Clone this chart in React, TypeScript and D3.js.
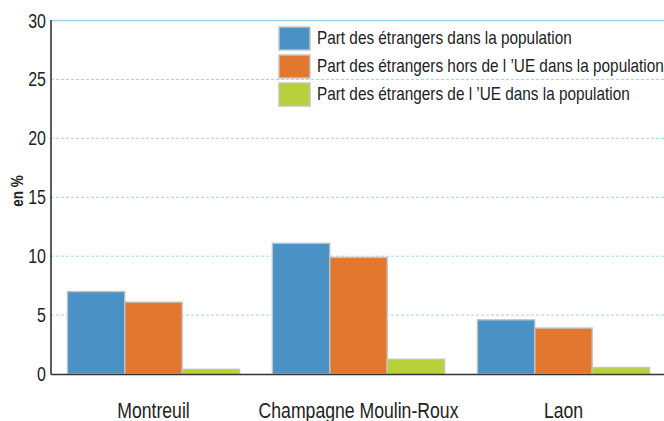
import React from "react";
import * as d3 from "d3";

// villes et valeurs (en %)
const categories = ["Montreuil", "Champagne Moulin-Roux", "Laon"];
const seriesNames = [
  "Part des étrangers dans la population",
  "Part des étrangers hors de l \u2019UE dans la population",
  "Part des étrangers de l \u2019UE dans la population",
];
const partEtrangers = [7.0, 11.1, 4.6];
const partHorsUE = [6.1, 9.9, 3.9];
const partUE = [0.4, 1.25, 0.55];
const yTicks = [0, 5, 10, 15, 20, 25, 30];

const colors = ["#4a91c6", "#e2782f", "#b7d13c"];
const font = "'Liberation Sans', Arial, sans-serif";
// police étroite simulée (pas de Helvetica Narrow ici)
const narrow = 0.82;

function NText(props: any) {
  const { x, y, children, ...rest } = props;
  return (
    <text transform={`translate(${x},${y}) scale(${narrow},1)`} {...rest}>
      {children}
    </text>
  );
}

export default function App() {
  const width = 664;
  const height = 421;
  const values = [partEtrangers, partHorsUE, partUE];

  const y = d3.scaleLinear().domain([0, 30]).range([374, 20.5]);
  const x = d3
    .scaleBand()
    .domain(categories)
    .range([51, 666])
    .paddingInner(0.16)
    .paddingOuter(0.08);
  const xs = d3
    .scaleBand()
    .domain(seriesNames)
    .range([0, x.bandwidth()]);

  return (
    <svg
      width={width}
      height={height}
      style={{ position: "absolute", left: 0, top: 0, background: "#fff" }}
      fontFamily={font}
    >
      {/* grille */}
      {yTicks.slice(1).map((t) => (
        <line
          key={"g" + t}
          x1={51}
          x2={width}
          y1={y(t)}
          y2={y(t)}
          stroke="#9fd3ef"
          strokeWidth={t === 30 ? 1.6 : 1}
          strokeDasharray={t === 30 ? undefined : "3,2"}
        />
      ))}

      {/* barres */}
      {categories.map((c, i) => (
        <g key={c} transform={`translate(${x(c)},0)`}>
          {seriesNames.map((s, j) => (
            <rect
              key={s}
              x={xs(s)}
              y={y(values[j][i])}
              width={xs.bandwidth()}
              height={y(0) - y(values[j][i])}
              fill={colors[j]}
              stroke="#c4c4c4"
              strokeWidth={1.4}
            />
          ))}
        </g>
      ))}

      {/* axes */}
      <line x1={51} x2={51} y1={20} y2={374.5} stroke="#333" strokeWidth={1.6} />
      <line x1={51} x2={width} y1={374.5} y2={374.5} stroke="#333" strokeWidth={1.6} />

      {yTicks.map((t) => (
        <NText
          key={"t" + t}
          x={46}
          y={y(t)}
          dy="0.36em"
          textAnchor="end"
          fontSize={19.5}
          fill="#222"
        >
          {t}
        </NText>
      ))}

      {categories.map((c) => (
        <NText
          key={"c" + c}
          x={(x(c) as number) + x.bandwidth() / 2}
          y={418}
          textAnchor="middle"
          fontSize={21.5}
          fill="#222"
        >
          {c}
        </NText>
      ))}

      <text
        transform={`translate(23,191) rotate(-90) scale(${narrow},1)`}
        textAnchor="middle"
        fontSize={16.5}
        fontWeight="bold"
        fill="#222"
      >
        en %
      </text>

      {/* légende */}
      {seriesNames.map((s, j) => (
        <g key={"l" + s} transform={`translate(279,${27 + j * 28})`}>
          <rect width={31} height={23} fill={colors[j]} stroke="#c4c4c4" strokeWidth={1.5} />
          <NText x={38} y={17} fontSize={18.7} fill="#222">
            {s}
          </NText>
        </g>
      ))}
    </svg>
  );
}
